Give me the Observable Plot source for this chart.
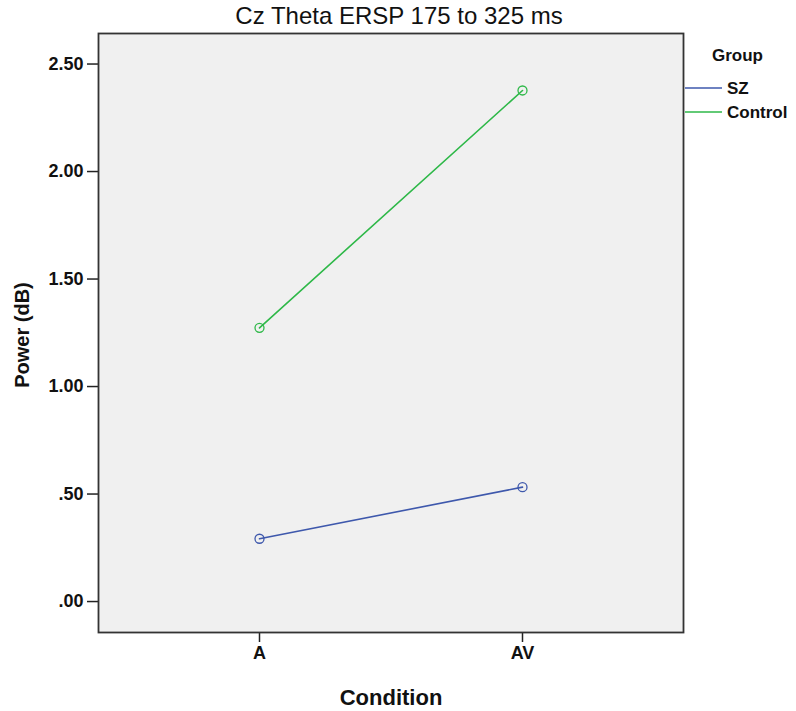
<!DOCTYPE html>
<html>
<head>
<meta charset="utf-8">
<script src="https://cdn.jsdelivr.net/npm/d3@7"></script>
<script src="https://cdn.jsdelivr.net/npm/@observablehq/plot@0.6"></script>
<style>
  html, body { margin: 0; padding: 0; background: #ffffff; }
  #chart { width: 796px; height: 711px; }
</style>
</head>
<body>
<div id="chart"></div>
<script>
const chartTitle = "Cz Theta ERSP 175 to 325 ms";
const xTitle = "Condition";
const yTitle = "Power (dB)";
const legendTitle = "Group";
const conditions = ["A", "AV"];
const groups = ["SZ", "Control"];
const szValues = [0.292, 0.532];
const controlValues = [1.273, 2.377];
const groupColors = ["#3e58ac", "#2eb848"];
const yTicks = [0, 0.5, 1, 1.5, 2, 2.5];
const yTickLabels = [".00", ".50", "1.00", "1.50", "2.00", "2.50"];

const seriesValues = [szValues, controlValues];
const data = groups.flatMap((g, i) =>
  conditions.map((c, j) => ({ group: g, condition: c, power: seriesValues[i][j] }))
);

const font = "'Liberation Sans', Arial, sans-serif";

const plot = Plot.plot({
  width: 796,
  height: 711,
  marginLeft: 98,
  marginRight: 113,
  marginTop: 33,
  marginBottom: 79,
  style: { fontFamily: font, background: "#ffffff", overflow: "visible" },
  x: { type: "point", domain: conditions, padding: 0.612, label: null },
  y: { domain: [-0.144, 2.642], label: null },
  color: { domain: groups, range: groupColors },
  marks: [
    Plot.frame({ fill: "#f0f0f0", stroke: null }),
    Plot.axisY({
      ticks: yTicks,
      tickFormat: (d) => yTickLabels[yTicks.indexOf(d)],
      tickSize: 11,
      tickPadding: 4,
      fontSize: 18,
      fontWeight: "bold",
      stroke: "#222",
      strokeWidth: 1.5,
      fill: "#111",
      label: null
    }),
    Plot.axisX({
      tickSize: 10,
      tickPadding: 4,
      fontSize: 18,
      fontWeight: "bold",
      stroke: "#222",
      strokeWidth: 1.5,
      fill: "#111",
      label: null
    }),
    Plot.line(data, {
      x: "condition",
      y: "power",
      z: "group",
      stroke: "group",
      strokeWidth: 1.6
    }),
    Plot.dot(data, {
      x: "condition",
      y: "power",
      stroke: "group",
      fill: "none",
      r: 4.5,
      strokeWidth: 1.3
    }),
    Plot.frame({ stroke: "#333", strokeWidth: 1.8, strokeOpacity: 1 }),
    Plot.text([chartTitle], {
      frameAnchor: "top",
      lineAnchor: "middle",
      textAnchor: "middle",
      dy: -17,
      dx: 8,
      fontSize: 24,
      fill: "#111",
      text: (d) => d
    }),
    Plot.text([xTitle], {
      frameAnchor: "bottom",
      lineAnchor: "middle",
      textAnchor: "middle",
      dy: 65,
      fontSize: 22,
      fontWeight: "bold",
      fill: "#111",
      text: (d) => d
    }),
    Plot.text([yTitle], {
      frameAnchor: "left",
      textAnchor: "middle",
      lineAnchor: "middle",
      dx: -76,
      dy: 2,
      rotate: -90,
      fontSize: 20,
      fontWeight: "bold",
      fill: "#111",
      text: (d) => d
    })
  ]
});

// Legend drawn in the same SVG, colours from the color scale
const svg = d3.select(plot);
const color = plot.scale("color");
const legend = svg.append("g")
  .attr("font-family", font)
  .attr("font-weight", "bold")
  .attr("text-anchor", "start");
legend.append("text")
  .attr("x", 712).attr("y", 61)
  .attr("font-size", 17).attr("fill", "#111")
  .text(legendTitle);
groups.forEach((g, i) => {
  const y = 88 + i * 24;
  legend.append("line")
    .attr("x1", 685).attr("x2", 722)
    .attr("y1", y).attr("y2", y)
    .attr("stroke", color.apply(g)).attr("stroke-width", 1.6);
  legend.append("text")
    .attr("x", 727).attr("y", y).attr("dy", "0.35em")
    .attr("font-size", 17).attr("fill", "#111")
    .text(g);
});

document.getElementById("chart").appendChild(plot);
</script>
</body>
</html>
